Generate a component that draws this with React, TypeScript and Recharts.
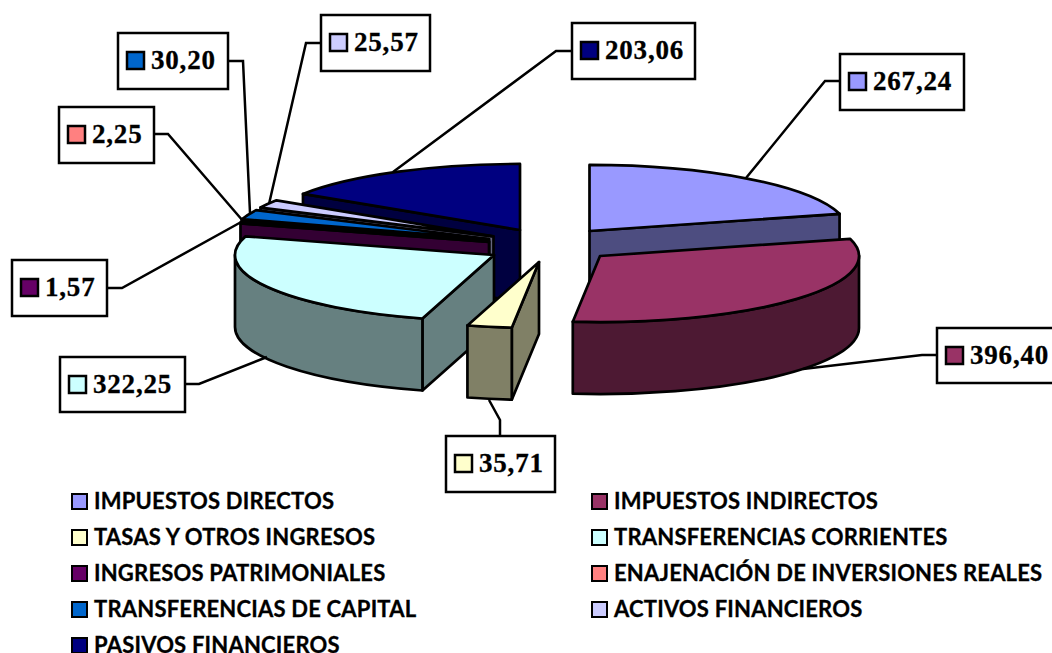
import { PieChart, Pie, Legend } from "recharts";

const categories = [
  "IMPUESTOS DIRECTOS",
  "IMPUESTOS INDIRECTOS",
  "TASAS Y OTROS INGRESOS",
  "TRANSFERENCIAS CORRIENTES",
  "INGRESOS PATRIMONIALES",
  "ENAJENACIÓN DE INVERSIONES REALES",
  "TRANSFERENCIAS DE CAPITAL",
  "ACTIVOS FINANCIEROS",
  "PASIVOS FINANCIEROS",
];
const values = [267.24, 396.4, 35.71, 322.25, 1.57, 2.25, 30.2, 25.57, 203.06];
const topColors = ["#9999ff", "#993366", "#ffffcc", "#ccffff", "#660066", "#ff8080", "#0066cc", "#ccccff", "#000080"];
const sideColors = ["#4d4d80", "#4d1933", "#808066", "#668080", "#330033", "#804040", "#003366", "#666680", "#000040"];

// how far each slice is pulled out of the pie, already flattened
const explodeX = [49.5, 60, -1, -46, -51, -51, -51, -46.5, -20];
const explodeY = [-14, 11, 17, 10, -3, -4, -6, -8.6, -15];

// callout box [x, y, w, h] and leader points
const boxes = [
  [840, 54, 124, 56],
  [937, 328, 125, 55],
  [446, 436, 109, 56],
  [60, 357, 125, 55],
  [12, 260, 95, 56],
  [59, 107, 95, 56],
  [118, 33, 110, 56],
  [321, 15, 109, 56],
  [572, 23, 123, 56],
];
const leaders = [
  [[840, 81], [825, 81], [746, 178]],
  [[937, 355], [922, 355], [803, 369]],
  [[500, 436], [500, 420], [489, 400]],
  [[185, 384], [199, 384], [267, 357]],
  [[107, 288], [122, 288], [243, 221]],
  [[154, 134], [168, 134], [243, 221]],
  [[228, 61], [243, 61], [250, 213]],
  [[321, 43], [306, 43], [269, 204]],
  [[572, 51], [556, 51], [393, 172]],
];

const CX = 540;
const CY = 245;
const RX = 259;
const SQUASH = 0.255;
const DEPTH = 72;
const LINE = 2.7;

const total = values.reduce((a, b) => a + b, 0);
// painted back to front, so the order differs from the legend
const paintOrder = [0, 8, 7, 6, 5, 4, 3, 2, 1];
const pieData = paintOrder.map((i) => ({ name: categories[i], value: values[i], fill: topColors[i], idx: i }));
const firstAngle = 90 - (360 * values[0]) / total;

function ell(rx: number, ry: number, ax: number, ay: number, deg: number) {
  const a = (deg * Math.PI) / 180;
  return [ax + rx * Math.cos(a), ay - ry * Math.sin(a)];
}

function Slice3D(props: any) {
  const { cx, cy, outerRadius, startAngle, endAngle, payload } = props;
  const idx = payload.idx ?? props.idx;
  const rx = outerRadius;
  const ry = outerRadius * SQUASH;
  const ax = cx + explodeX[idx];
  const ay = cy + explodeY[idx];
  const a0 = Math.min(startAngle, endAngle);
  const a1 = Math.max(startAngle, endAngle);
  const side = sideColors[idx];
  const common = { stroke: "#000", strokeWidth: LINE, strokeLinejoin: "round" as const };

  const face = (deg: number, key: string) => {
    const [x, y] = ell(rx, ry, ax, ay, deg);
    const d = `M${ax},${ay} L${x},${y} L${x},${y + DEPTH} L${ax},${ay + DEPTH} Z`;
    return <path key={key} d={d} fill={side} {...common} />;
  };

  const w0 = Math.max(a0, 180);
  const w1 = Math.min(a1, 360);
  let wall = null;
  if (w1 > w0) {
    const [x0, y0] = ell(rx, ry, ax, ay, w0);
    const [x1, y1] = ell(rx, ry, ax, ay, w1);
    const d = `M${x0},${y0} A${rx},${ry} 0 0 0 ${x1},${y1} L${x1},${y1 + DEPTH} A${rx},${ry} 0 0 1 ${x0},${y0 + DEPTH} Z`;
    wall = <path d={d} fill={side} {...common} />;
  }

  const [tx0, ty0] = ell(rx, ry, ax, ay, a0);
  const [tx1, ty1] = ell(rx, ry, ax, ay, a1);
  const large = a1 - a0 > 180 ? 1 : 0;
  const top = `M${ax},${ay} L${tx0},${ty0} A${rx},${ry} 0 ${large} 0 ${tx1},${ty1} Z`;

  return (
    <g>
      {Math.cos((a0 * Math.PI) / 180) > 0.001 && face(a0, "f0")}
      {Math.cos((a1 * Math.PI) / 180) < -0.001 && face(a1, "f1")}
      {wall}
      <path d={top} fill={topColors[idx]} {...common} />
    </g>
  );
}

function Callout(props: any) {
  const idx = pieData[props.index].idx;
  const [x, y, w, h] = boxes[idx];
  const pts = leaders[idx].map((p) => p.join(",")).join(" ");
  const text = values[idx].toFixed(2).replace(".", ",");
  return (
    <g>
      <polyline points={pts} fill="none" stroke="#000" strokeWidth={2.5} />
      <rect x={x} y={y} width={w} height={h} fill="#fff" stroke="#000" strokeWidth={2.5} />
      <rect x={x + 9} y={y + 19} width={17} height={17} fill={topColors[idx]} stroke="#000" strokeWidth={2.5} />
      <text
        x={x + 33}
        y={y + 36}
        fill="#000"
        stroke="#000"
        strokeWidth={0.3}
        textAnchor="start"
        fontFamily="'Liberation Serif', serif"
        fontWeight="bold"
        fontSize={27}
        letterSpacing={0.8}
      >
        {text}
      </text>
    </g>
  );
}

function LegendBlock() {
  return (
    <div
      style={{
        display: "grid",
        gridTemplateColumns: "520px 460px",
        gridAutoRows: "36.1px",
        marginLeft: 71,
        fontFamily: "Lato, sans-serif",
        fontWeight: 700,
        fontSize: 22,
        letterSpacing: 0.2,
        WebkitTextStroke: "0.3px #000",
        color: "#000",
        whiteSpace: "nowrap",
        lineHeight: "26px",
      }}
    >
      {categories.map((name, i) => (
        <div key={name} style={{ display: "flex", alignItems: "center", height: 36 }}>
          <span
            style={{
              display: "inline-block",
              width: 13,
              height: 13,
              marginRight: 6,
              border: "2.5px solid #000",
              background: topColors[i],
              flex: "none",
            }}
          />
          {name}
        </div>
      ))}
    </div>
  );
}

export default function App() {
  return (
    <div style={{ position: "absolute", left: 0, top: 0, width: 1052, height: 653, overflow: "hidden", background: "#fff" }}>
      <PieChart width={1052} height={653} margin={{ top: 0, right: 0, bottom: 0, left: 0 }}>
        <Pie
          data={pieData}
          dataKey="value"
          nameKey="name"
          cx={CX}
          cy={CY}
          innerRadius={0}
          outerRadius={RX}
          startAngle={firstAngle}
          endAngle={firstAngle + 360}
          paddingAngle={0}
          stroke="none"
          isAnimationActive={false}
          shape={Slice3D}
          inactiveShape={Slice3D}
          activeShape={Slice3D}
          label={Callout}
          labelLine={false}
        />
        <Legend content={<LegendBlock />} wrapperStyle={{ left: 0, top: 483, width: 1052 }} />
      </PieChart>
    </div>
  );
}
